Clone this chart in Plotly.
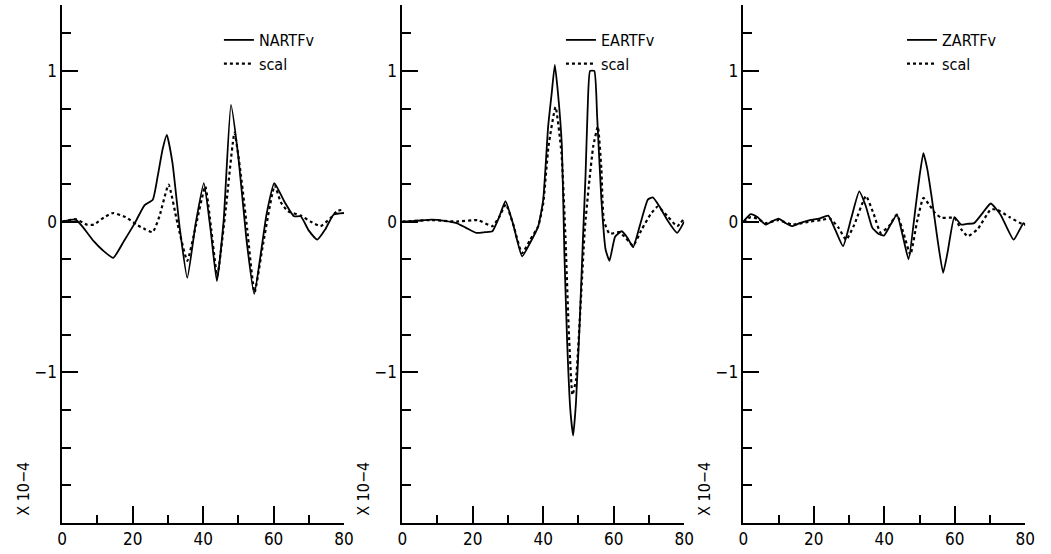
import plotly.graph_objects as go

# ---- data (units of 1e-4) ----
n_x = [0, 2, 3.8, 6, 8.95, 11.5, 14.5, 17.5, 20.6, 23.4, 25.7, 27.1, 28.5, 29.7, 31.3, 33.4, 35.5, 37.9, 40.2, 42.1, 43.9, 45.8, 47.9, 50, 52.3, 54.5, 56.5, 58, 60.2, 63, 65.8, 67.7, 70, 72.4, 74.7, 77, 80]
n_y = [0, 0.01, 0.015, -0.04, -0.13, -0.19, -0.24, -0.13, -0.01, 0.11, 0.145, 0.30, 0.48, 0.576, 0.39, -0.05, -0.373, -0.01, 0.256, -0.05, -0.395, 0.0, 0.775, 0.43, -0.12, -0.48, -0.19, 0.05, 0.256, 0.135, 0.035, 0.035, -0.06, -0.12, -0.05, 0.046, 0.057]
ns_x = [0, 2, 4, 7, 9, 12, 14.5, 18, 21.1, 23.5, 25.7, 27.6, 30.2, 32.7, 35.5, 38, 40.6, 42.3, 44, 46.5, 48.9, 50.5, 52.5, 54.6, 57, 60.3, 62, 64, 67.7, 70.5, 73.3, 76, 78, 80]
ns_y = [0, 0.01, 0.015, -0.02, -0.02, 0.03, 0.057, 0.03, -0.02, -0.05, -0.07, 0.035, 0.245, -0.01, -0.26, -0.02, 0.234, -0.05, -0.36, 0.1, 0.59, 0.35, -0.05, -0.47, -0.15, 0.24, 0.13, 0.07, 0.04, 0.0, -0.03, 0.02, 0.07, 0.08]

e_x = [0, 4, 8.4, 12, 15.4, 18, 21, 23.5, 25.6, 27.5, 29.3, 31.5, 34, 36.3, 38.6, 40, 41.4, 42.4, 43.3, 44.2, 45.3, 46.0, 46.8, 47.7, 48.5, 49.3, 50.3, 51.3, 52.0, 52.6, 53.3, 54.5, 55.3, 56.5, 57.7, 58.8, 60.4, 62.3, 64, 65.5, 67.5, 69.7, 71.1, 73, 75.5, 78, 80]
e_y = [0, 0.005, 0.013, 0.005, -0.01, -0.04, -0.075, -0.07, -0.064, 0.03, 0.135, -0.02, -0.23, -0.14, -0.03, 0.146, 0.63, 0.85, 1.04, 0.85, 0.5, -0.2, -0.8, -1.25, -1.42, -1.2, -0.7, -0.1, 0.3, 0.74, 1.0, 1.0, 0.7, 0.15, -0.185, -0.26, -0.1, -0.064, -0.11, -0.17, -0.02, 0.146, 0.16, 0.1, 0.0, -0.075, 0.0]
es_x = [0, 8.4, 15.4, 21.4, 25.6, 27.5, 29.4, 31.5, 34, 36.3, 38.6, 40, 41.5, 43.5, 45.2, 46.3, 47.3, 48.3, 49.3, 50.5, 51.8, 53, 54.2, 55.5, 56.5, 57.2, 58.8, 61.6, 63.5, 65.5, 68, 70.5, 72.5, 75.3, 78, 80]
es_y = [0, 0.01, 0.0, 0.01, -0.03, 0.03, 0.115, -0.02, -0.21, -0.12, -0.03, 0.12, 0.5, 0.76, 0.45, -0.1, -0.75, -1.15, -1.05, -0.6, -0.05, 0.25, 0.5, 0.63, 0.35, 0.01, -0.08, -0.07, -0.11, -0.16, -0.05, 0.05, 0.1, 0.035, -0.03, 0.02]

z_x = [0, 2.1, 4, 6.3, 8, 10, 12, 13.8, 16, 18.9, 21.5, 24.1, 26.2, 28.3, 30.6, 32.9, 34.8, 36.6, 38.3, 39.9, 41.8, 43.6, 45.3, 46.9, 48.8, 50, 51.1, 52.2, 53.4, 55, 56.7, 58, 59.9, 61.8, 63.5, 65.5, 68, 70.2, 73, 76.7, 79.5, 80]
z_y = [0, 0.05, 0.03, -0.02, 0.0, 0.02, -0.01, -0.03, -0.01, 0.01, 0.02, 0.04, -0.06, -0.163, 0.02, 0.2, 0.1, -0.04, -0.08, -0.093, -0.02, 0.046, -0.1, -0.25, 0.08, 0.3, 0.455, 0.35, 0.17, -0.1, -0.34, -0.2, 0.03, -0.02, -0.015, -0.01, 0.06, 0.12, 0.046, -0.12, -0.01, -0.02]
zs_x = [0, 2.1, 4, 6.3, 10, 13.8, 18.9, 22, 24.6, 27, 29.2, 31.5, 34.8, 37, 39, 41.3, 43.6, 45.5, 47.4, 49.3, 51.1, 52.8, 54.4, 56.2, 59.9, 61.8, 63.7, 66.5, 70.2, 72, 75.5, 79.5, 80]
zs_y = [0, 0.03, 0.02, -0.01, 0.01, -0.02, 0.0, 0.01, 0.02, -0.04, -0.12, -0.02, 0.17, 0.05, -0.075, -0.03, 0.046, -0.08, -0.22, 0.0, 0.157, 0.11, 0.057, 0.025, 0.025, -0.05, -0.097, -0.05, 0.08, 0.08, 0.03, -0.02, -0.02]

panels = [
    ("NARTFv", n_x, n_y, ns_x, ns_y),
    ("EARTFv", e_x, e_y, es_x, es_y),
    ("ZARTFv", z_x, z_y, zs_x, zs_y),
]
x_ticks = [0, 20, 40, 60, 80]
y_ticks = [-1, 0, 1]
y_ticktext = ["\u22121", "0", "1"]
scale_label = "X 10\u22124"

W, H = 1051, 554
FONT = "Liberation Sans Narrow, DejaVu Sans Condensed, Arial Narrow, sans-serif"
FS = 16
left_px = [58, 403, 749]
width_px = 286
ydom = [(H - 523) / H, (H - 4.6) / H]

fig = go.Figure()
for i, (name, sx, sy, dx, dy) in enumerate(panels):
    k = "" if i == 0 else str(i + 1)
    leg = "legend" + k
    fig.add_trace(go.Scatter(x=sx, y=sy, mode="lines", name=name,
                             line=dict(color="black", width=1.8, shape="spline", smoothing=0.45),
                             xaxis="x" + k, yaxis="y" + k, legend=leg))
    fig.add_trace(go.Scatter(x=dx, y=dy, mode="lines", name="scal",
                             line=dict(color="black", width=2.2, dash="dot", shape="spline", smoothing=0.45),
                             xaxis="x" + k, yaxis="y" + k, legend=leg))
    x0 = left_px[i] / W
    x1 = (left_px[i] + width_px) / W
    fig.layout["xaxis" + k] = dict(
        domain=[x0, x1], range=[0, 80], anchor="y" + k,
        tickvals=x_ticks, ticks="inside", ticklen=17, tickwidth=1.5,
        tickcolor="black", showline=True, linecolor="black", linewidth=1.5,
        showgrid=False, zeroline=False,
        minor=dict(dtick=10, ticks="inside", ticklen=8, tickwidth=1.5,
                   tickcolor="black", showgrid=False),
        tickfont=dict(family=FONT, size=FS + 1, color="black"),
    )
    fig.layout["yaxis" + k] = dict(
        domain=ydom, range=[-2, 1.44], anchor="x" + k,
        tickvals=y_ticks, ticktext=y_ticktext, ticks="inside", ticklen=16,
        tickwidth=1.5, tickcolor="black", showline=True, linecolor="black",
        linewidth=1.5, showgrid=False, zeroline=False,
        minor=dict(dtick=0.25, ticks="inside", ticklen=9, tickwidth=1.5,
                   tickcolor="black", showgrid=False),
        tickfont=dict(family=FONT, size=FS + 1, color="black"),
    )
    leg_x = [223, 570, 916][i]
    fig.layout[leg] = dict(
        x=(leg_x - 6) / W, y=1 - 23 / H, xanchor="left", yanchor="top",
        bgcolor="rgba(0,0,0,0)", borderwidth=0, tracegroupgap=0,
        font=dict(family=FONT, size=FS, color="black"),
        itemwidth=30,
    )
    fig.add_annotation(text=scale_label, textangle=-90, showarrow=False,
                       xref="paper", yref="paper",
                       x=(left_px[i] - 40) / W, y=(H - 489) / H,
                       xanchor="center", yanchor="middle",
                       font=dict(family=FONT, size=FS, color="black"))

fig.update_layout(
    width=W, height=H, margin=dict(l=0, r=0, t=0, b=0),
    paper_bgcolor="white", plot_bgcolor="white", showlegend=True,
)
fig.write_html("out.html")
